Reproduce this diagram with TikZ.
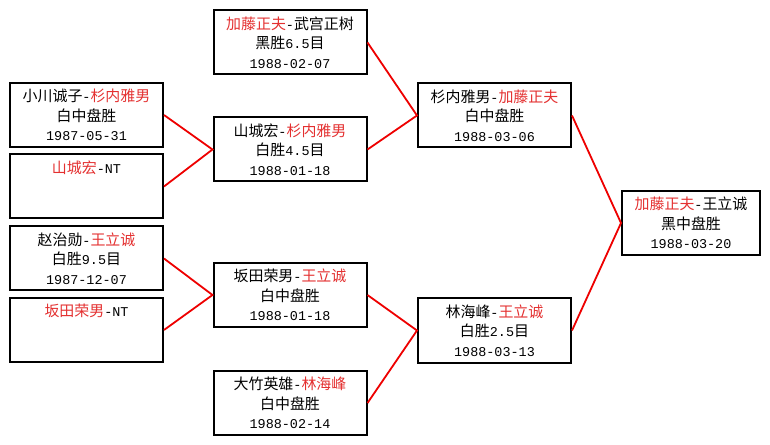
\documentclass[tikz,border=0pt]{standalone}
\usepackage{fontspec}
\setmainfont{Liberation Mono}[Scale=0.9]
\newfontfamily\cjk{Noto Sans CJK SC}
\definecolor{winred}{RGB}{228,48,48}
\definecolor{linkred}{RGB}{238,0,0}
\newcommand\hz[1]{{\cjk #1}}
\newcommand\win[1]{\textcolor{winred}{#1}}

\begin{document}
\begin{tikzpicture}[
    x=1bp, y=-1bp,
    mybox/.style={draw, line width=2bp, fill=white, minimum width=153bp, minimum height=64bp,
        inner sep=0pt, align=center, font=\fontsize{15}{19.5}\selectfont},
    mylink/.style={linkred, line width=1.8bp}
]
    % Canvas
    \fill[white] (0,0) rectangle (770,445);
    \useasboundingbox (0,0) rectangle (770,445);

    % Round 1
    \node[mybox] (a1) at (86.5,115) {\hz{小川诚子}-\win{\hz{杉内雅男}}\\\hz{白中盘胜}\\1987-05-31};
    \node[mybox] (a2) at (86.5,186.5) {\win{\hz{山城宏}}-NT\\\mbox{}\\\mbox{}};
    \node[mybox] (a3) at (86.5,258.5) {\hz{赵治勋}-\win{\hz{王立诚}}\\\hz{白胜}9.5\hz{目}\\1987-12-07};
    \node[mybox] (a4) at (86.5,330) {\win{\hz{坂田荣男}}-NT\\\mbox{}\\\mbox{}};

    % Round 2
    \node[mybox] (b1) at (290,42.5) {\win{\hz{加藤正夫}}-\hz{武宫正树}\\\hz{黑胜}6.5\hz{目}\\1988-02-07};
    \node[mybox] (b2) at (290,149.5) {\hz{山城宏}-\win{\hz{杉内雅男}}\\\hz{白胜}4.5\hz{目}\\1988-01-18};
    \node[mybox] (b3) at (290,295) {\hz{坂田荣男}-\win{\hz{王立诚}}\\\hz{白中盘胜}\\1988-01-18};
    \node[mybox] (b4) at (290,403) {\hz{大竹英雄}-\win{\hz{林海峰}}\\\hz{白中盘胜}\\1988-02-14};

    % Round 3
    \node[mybox] (c1) at (494.5,115.5) {\hz{杉内雅男}-\win{\hz{加藤正夫}}\\\hz{白中盘胜}\\1988-03-06};
    \node[mybox] (c2) at (494.5,330.5) {\hz{林海峰}-\win{\hz{王立诚}}\\\hz{白胜}2.5\hz{目}\\1988-03-13};

    % Final
    \node[mybox, minimum width=138bp] (d1) at (691,223) {\win{\hz{加藤正夫}}-\hz{王立诚}\\\hz{黑中盘胜}\\1988-03-20};

    % Links
    \draw[mylink] (a1.east) -- (b2.west) -- (a2.east);
    \draw[mylink] (a3.east) -- (b3.west) -- (a4.east);
    \draw[mylink] (b1.east) -- (c1.west) -- (b2.east);
    \draw[mylink] (b3.east) -- (c2.west) -- (b4.east);
    \draw[mylink] (c1.east) -- (d1.west) -- (c2.east);
\end{tikzpicture}
\end{document}
